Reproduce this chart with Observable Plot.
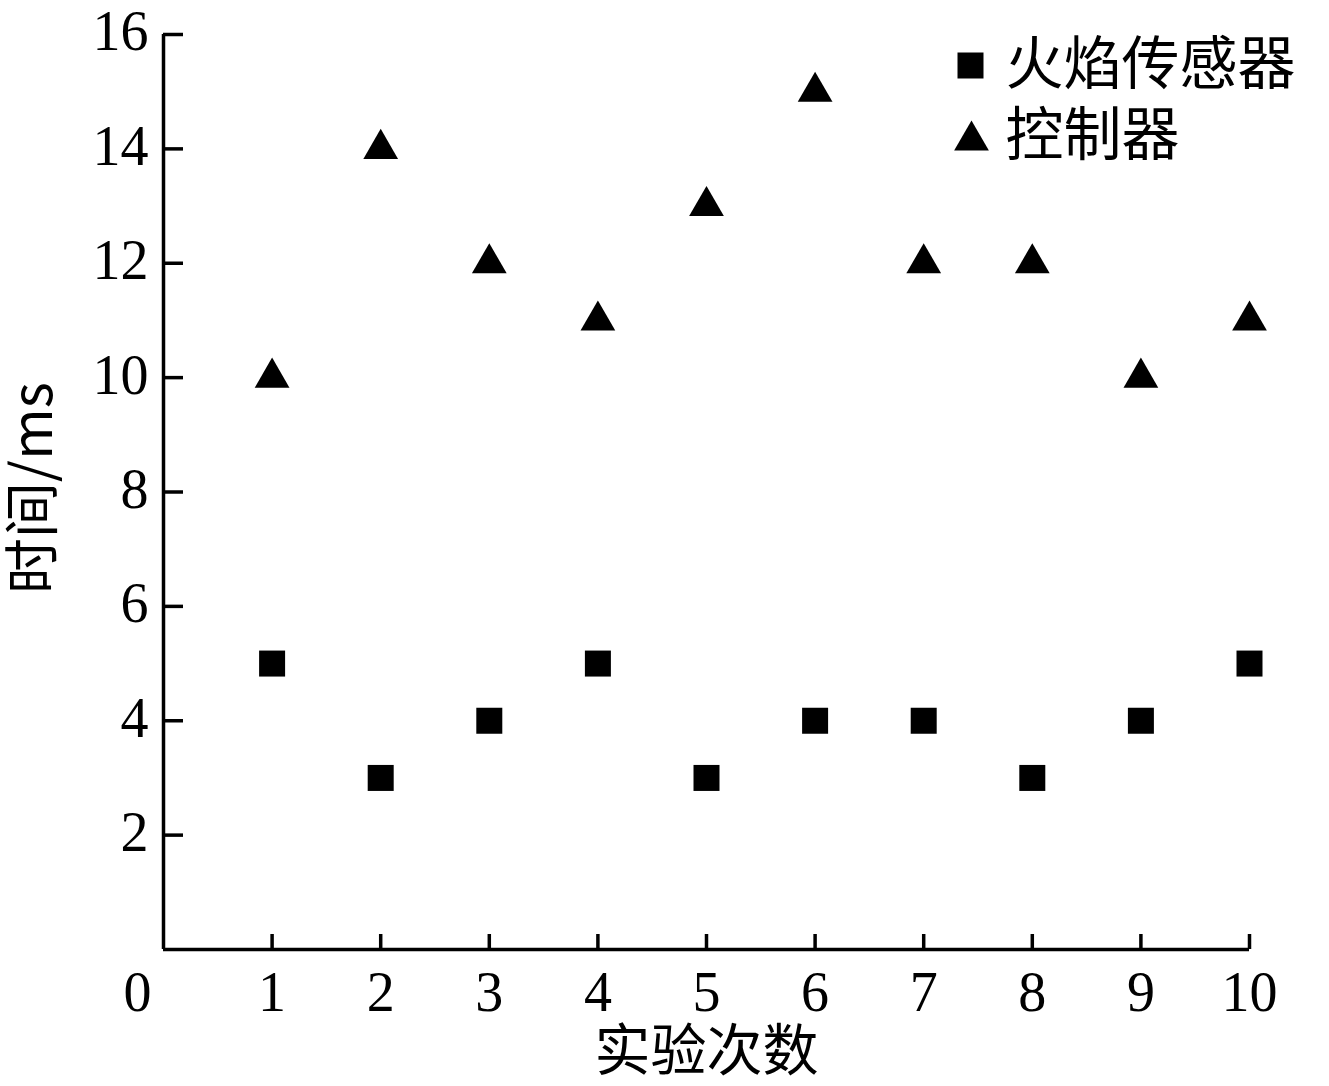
<!DOCTYPE html>
<html>
<head>
<meta charset="utf-8">
<script src="https://cdn.jsdelivr.net/npm/d3@7"></script>
<script src="https://cdn.jsdelivr.net/npm/@observablehq/plot@0.6"></script>
<style>
  html, body { margin: 0; padding: 0; background: #fff; }
  #chart svg { display: block; }
</style>
</head>
<body>
<div id="chart"></div>
<script>
// Data
const trials = [1, 2, 3, 4, 5, 6, 7, 8, 9, 10];
const flameSensor = [5, 3, 4, 5, 3, 4, 4, 3, 4, 5];   // 火焰传感器
const controller = [10, 14, 12, 11, 13, 15, 12, 12, 10, 11]; // 控制器
const xTicks = [1, 2, 3, 4, 5, 6, 7, 8, 9, 10];
const yTicks = [2, 4, 6, 8, 10, 12, 14, 16];
const seriesNames = ["火焰传感器", "控制器"];
const xLabel = "实验次数";
const yLabel = "时间/ms";

const sensorData = trials.map((t, i) => ({trial: t, time: flameSensor[i]}));
const ctrlData = trials.map((t, i) => ({trial: t, time: controller[i]}));

const W = 1329, H = 1086;
const mL = 163, mR = 80, mT = 34, mB = 137;
const plotW = W - mL - mR, plotH = H - mT - mB;
const serif = "'Liberation Serif', 'Times New Roman', serif";
const cjk = "'Noto Sans CJK SC', sans-serif";
const fmt = d => String(d);

const chart = Plot.plot({
  width: W,
  height: H,
  marginLeft: mL,
  marginRight: mR,
  marginTop: mT,
  marginBottom: mB,
  style: {background: "#fff", color: "#000"},
  x: {domain: [0, 10]},
  y: {domain: [0, 16]},
  marks: [
    // axis lines
    Plot.ruleY([0], {stroke: "#000", strokeWidth: 3.5}),
    Plot.ruleX([0], {stroke: "#000", strokeWidth: 3.5}),
    // inward ticks
    Plot.tickY(yTicks, {y: d => d, insetRight: plotW - 20, stroke: "#000", strokeWidth: 3.5}),
    Plot.tickX(xTicks, {x: d => d, insetTop: plotH - 15, stroke: "#000", strokeWidth: 3.5}),
    // tick labels
    Plot.axisY(yTicks, {tickSize: 0, tickPadding: 15, tickFormat: fmt, fontSize: 56, fontFamily: serif, label: null, dy: -2}),
    Plot.axisX(xTicks, {tickSize: 0, tickPadding: 22, tickFormat: fmt, fontSize: 56, fontFamily: serif, label: null}),
    Plot.axisX([0], {tickSize: 0, tickPadding: 22, tickFormat: fmt, fontSize: 56, fontFamily: serif, label: null, dx: -26}),
    // axis titles
    Plot.text([xLabel], {frameAnchor: "bottom", text: d => d, dy: 103, fontSize: 56, fontFamily: cjk, textAnchor: "middle", lineAnchor: "middle"}),
    Plot.text([yLabel], {frameAnchor: "left", text: d => d, rotate: -90, dx: -129, dy: -4, fontSize: 56, fontFamily: cjk, textAnchor: "middle", lineAnchor: "middle"}),
    // data
    Plot.dot(sensorData, {x: "trial", y: "time", symbol: "square", r: 14.67, fill: "#000", stroke: "none"}),
    Plot.dot(ctrlData, {x: "trial", y: "time", symbol: "triangle", r: 12.9, fill: "#000", stroke: "none"}),
    // legend
    Plot.dot([seriesNames[0]], {frameAnchor: "top-right", dx: -279, dy: 31, symbol: "square", r: 14.67, fill: "#000", stroke: "none"}),
    Plot.text([seriesNames[0]], {frameAnchor: "top-right", text: d => d, dx: -244, dy: 31, textAnchor: "start", lineAnchor: "middle", fontSize: 58, fontFamily: cjk}),
    Plot.dot([seriesNames[1]], {frameAnchor: "top-right", dx: -278, dy: 106, symbol: "triangle", r: 12.9, fill: "#000", stroke: "none"}),
    Plot.text([seriesNames[1]], {frameAnchor: "top-right", text: d => d, dx: -244, dy: 102, textAnchor: "start", lineAnchor: "middle", fontSize: 58, fontFamily: cjk})
  ]
});
document.getElementById("chart").appendChild(chart);
</script>
</body>
</html>
